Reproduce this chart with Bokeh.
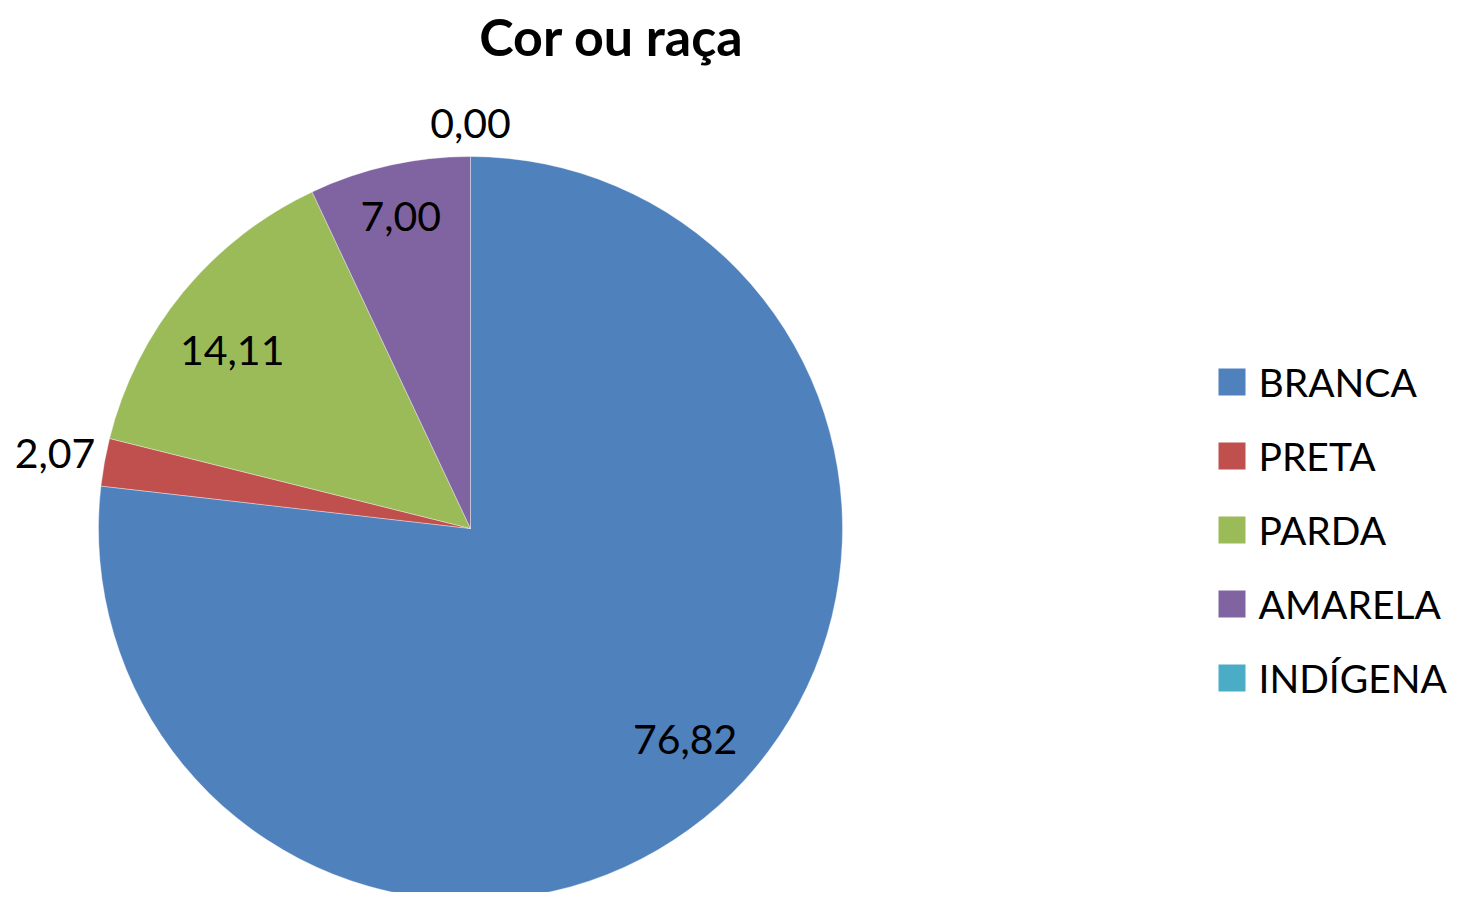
import math
from bokeh.plotting import figure
from bokeh.models import Range1d, ColumnDataSource
from bokeh.core.properties import value
from bokeh.embed import file_html
from bokeh.resources import INLINE

# ---- data ----
title_text = "Cor ou raça"
categories = ["BRANCA", "PRETA", "PARDA", "AMARELA", "INDÍGENA"]
percent = [76.82, 2.07, 14.11, 7.00, 0.00]
labels = ["76,82", "2,07", "14,11", "7,00", "0,00"]
colors = ["#4F81BD", "#C0504D", "#9BBB59", "#8064A2", "#4BACC6"]

# ---- style / layout ----
FONT = "Lato"
W, H = 1450, 892
cx, cy, R = 470, 372, 372          # pie centre & radius (pixel units, y up)
label_r = [0.81, 1.135, 0.80, 0.86, 1.09]   # label distance (fraction of radius)
label_da = [3.7, 0.0, 2.6, 0.0, 0.0]        # label angle nudge (degrees)

p = figure(width=W, height=H, output_backend="svg", toolbar_location=None,
           x_range=Range1d(0, W), y_range=Range1d(900 - H, 900),
           min_border=0, outline_line_color=None)
p.axis.visible = False
p.grid.visible = False
p.background_fill_color = "white"

total = sum(percent)
starts, ends, lx, ly = [], [], [], []
a = math.pi / 2
for v, fr, da in zip(percent, label_r, label_da):
    sweep = 2 * math.pi * v / total
    starts.append(a)
    ends.append(a - sweep)
    mid = a - sweep / 2 + math.radians(da)
    lx.append(cx + fr * R * math.cos(mid))
    ly.append(cy + fr * R * math.sin(mid))
    a -= sweep

# only non-empty slices get a wedge (a zero sweep would draw a full circle)
nz = [i for i, v in enumerate(percent) if v > 0]
wsrc = ColumnDataSource(dict(start=[starts[i] for i in nz],
                             end=[ends[i] for i in nz],
                             color=[colors[i] for i in nz]))
p.wedge(x=cx, y=cy, radius=R, start_angle="start", end_angle="end",
        direction="clock", fill_color="color", line_color="white",
        line_width=0.6, line_alpha=0.6, source=wsrc)

src = ColumnDataSource(dict(lx=lx, ly=ly, label=labels))
p.text(x="lx", y="ly", text="label", source=src, text_font=value(FONT),
       text_font_size="41px", text_align="center", text_baseline="middle",
       text_color="black")

# legend (manual)
leg_x0, leg_y0, leg_dy = 1231.5, 900 - 381.5, 74
legx = [leg_x0] * len(categories)
legy = [leg_y0 - i * leg_dy for i in range(len(categories))]
lsrc = ColumnDataSource(dict(x=legx, y=legy, tx=[x + 26.5 for x in legx],
                             cat=categories, color=colors))
p.scatter(x="x", y="y", marker="square", size=27, fill_color="color",
          line_color=None, source=lsrc)
p.text(x="tx", y="y", text="cat", source=lsrc, text_font=value(FONT),
       text_font_size="39px", text_align="left", text_baseline="middle",
       text_color="black")

# title
p.text(x=[611], y=[900 - 35], text=[title_text], text_font=value(FONT),
       text_font_size="52px", text_font_style="bold", text_align="center",
       text_baseline="middle", text_color="black")

open("out.html", "w").write(file_html(p, INLINE))
